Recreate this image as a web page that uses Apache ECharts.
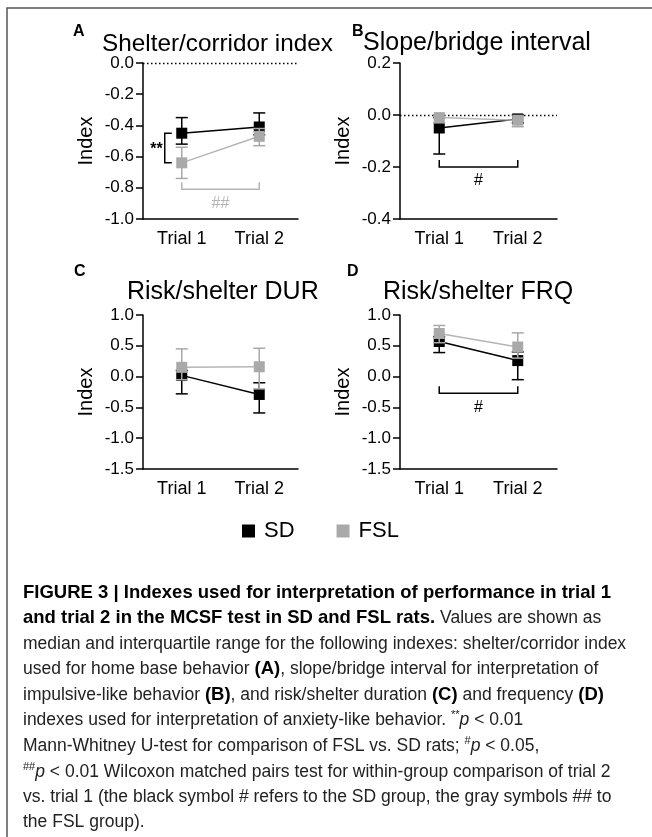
<!DOCTYPE html>
<html><head><meta charset="utf-8">
<script src="https://cdn.jsdelivr.net/npm/echarts@6/dist/echarts.min.js"></script>
<style>html,body{margin:0;padding:0;background:#fff}#c{width:652px;height:837px}</style>
</head><body><div id="c"></div>
<script>
// ---------- data ----------
var trials = ['Trial 1', 'Trial 2'];
var groupNames = ['SD', 'FSL'];
var panelLetters = ['A', 'B', 'C', 'D'];
var panelTitles = ['Shelter/corridor index', 'Slope/bridge interval', 'Risk/shelter DUR', 'Risk/shelter FRQ'];
var yAxisName = 'Index';

// y-axis [min, max, interval]
var yRangeA = [-1.0, 0.0, 0.2];
var yRangeB = [-0.4, 0.2, 0.2];
var yRangeC = [-1.5, 1.0, 0.5];
var yRangeD = [-1.5, 1.0, 0.5];

// medians and interquartile range (low, high), per trial
var A_SD = [-0.45, -0.41], A_SD_lo = [-0.52, -0.46], A_SD_hi = [-0.35, -0.32];
var A_FSL = [-0.64, -0.47], A_FSL_lo = [-0.74, -0.53], A_FSL_hi = [-0.54, -0.42];

var B_SD = [-0.05, -0.015], B_SD_lo = [-0.15, -0.03], B_SD_hi = [-0.01, 0.0];
var B_FSL = [-0.01, -0.02], B_FSL_lo = [-0.03, -0.045], B_FSL_hi = [0.0, -0.005];

var C_SD = [0.02, -0.29], C_SD_lo = [-0.28, -0.59], C_SD_hi = [0.10, -0.10];
var C_FSL = [0.15, 0.16], C_FSL_lo = [-0.05, -0.20], C_FSL_hi = [0.45, 0.46];

var D_SD = [0.57, 0.26], D_SD_lo = [0.39, -0.05], D_SD_hi = [0.65, 0.40];
var D_FSL = [0.70, 0.48], D_FSL_lo = [0.55, 0.30], D_FSL_hi = [0.83, 0.71];

// significance annotations
var A_groupSigLabel = '**', A_groupSigSpan = [-0.45, -0.64];
var A_trialSigLabel = '##', A_trialSigLevel = -0.81;
var B_trialSigLabel = '#', B_trialSigLevel = -0.20;
var D_trialSigLabel = '#', D_trialSigLevel = -0.27;
var zeroLines = [0, 0]; // dotted reference line at y = 0 in panels A and B

// caption
var captionLines = [
  '{b|FIGURE 3 | Indexes used for interpretation of performance in trial 1}',
  '{b|and trial 2 in the MCSF test in SD and FSL rats.} Values are shown as',
  'median and interquartile range for the following indexes: shelter/corridor index',
  'used for home base behavior {b|(A)}, slope/bridge interval for interpretation of',
  'impulsive-like behavior {b|(B)}, and risk/shelter duration {b|(C)} and frequency {b|(D)}',
  'indexes used for interpretation of anxiety-like behavior. {s|**}{i|p} < 0.01',
  'Mann-Whitney U-test for comparison of FSL vs. SD rats; {s|#}{i|p} < 0.05,',
  '{s|##}{i|p} < 0.01 Wilcoxon matched pairs test for within-group comparison of trial 2',
  'vs. trial 1 (the black symbol # refers to the SD group, the gray symbols ## to',
  'the FSL group).'
];

// ---------- style / layout ----------
var FONT = '"Liberation Sans", Arial, Helvetica, sans-serif';
var BLACK = '#000000', GREY = '#a9a9a9', GREY_LINE = '#b5b5b5';
var CAP_SIZE = 17.5, CAP_BOLD = 18.5;
var grids = [
  {left: 143, top: 63, width: 155, height: 156},
  {left: 400, top: 63, width: 157, height: 156},
  {left: 143, top: 315, width: 155, height: 154},
  {left: 400, top: 315, width: 157, height: 154}
];
var titlePos = [[102, 45], [363, 44], [127, 293], [383, 293]];
var titleSize = [24.3, 25, 25, 25];
var letterPos = [[73, 33], [352, 33], [74, 273], [347, 273]];
var captionY = [593, 618, 644, 669, 695, 720, 746, 772, 797, 822];

var chart = echarts.init(document.getElementById('c'), null, {renderer: 'canvas'});

function errData(lo, hi) {
  return lo.map(function (v, i) { return [i, lo[i], hi[i]]; });
}
function errRender(color) {
  return function (params, api) {
    var x = api.value(0);
    var pLo = api.coord([x, api.value(1)]);
    var pHi = api.coord([x, api.value(2)]);
    var w = 6;
    var st = {stroke: color, lineWidth: 1.5};
    return {type: 'group', children: [
      {type: 'line', shape: {x1: pLo[0], y1: pLo[1], x2: pHi[0], y2: pHi[1]}, style: st},
      {type: 'line', shape: {x1: pLo[0] - w, y1: pLo[1], x2: pLo[0] + w, y2: pLo[1]}, style: st},
      {type: 'line', shape: {x1: pHi[0] - w, y1: pHi[1], x2: pHi[0] + w, y2: pHi[1]}, style: st}
    ]};
  };
}
function trialBracket(label, color) {
  return function (params, api) {
    var lvl = api.value(0);
    var p1 = api.coord([0, lvl]), p2 = api.coord([1, lvl]);
    var st = {stroke: color, lineWidth: 1.5, fill: null};
    return {type: 'group', children: [
      {type: 'polyline', shape: {points: [[p1[0], p1[1] - 7], [p1[0], p1[1]], [p2[0], p2[1]], [p2[0], p2[1] - 7]]}, style: st},
      {type: 'text', style: {text: label, x: (p1[0] + p2[0]) / 2, y: p1[1] + 14, align: 'center', verticalAlign: 'middle',
        fill: color, font: '16px ' + FONT}}
    ]};
  };
}
function groupBracket(label) {
  return function (params, api) {
    var pa = api.coord([0, api.value(0)]), pb = api.coord([0, api.value(1)]);
    var xv = pa[0] - 17;
    var st = {stroke: BLACK, lineWidth: 1.5, fill: null};
    return {type: 'group', children: [
      {type: 'polyline', shape: {points: [[xv + 7, pa[1]], [xv, pa[1]], [xv, pb[1]], [xv + 7, pb[1]]]}, style: st},
      {type: 'text', style: {text: label, x: xv - 2, y: (pa[1] + pb[1]) / 2 + 2, align: 'right', verticalAlign: 'middle',
        fill: BLACK, font: 'bold 16px ' + FONT}}
    ]};
  };
}

var panels = [
  {y: yRangeA, sd: A_SD, sdLo: A_SD_lo, sdHi: A_SD_hi, fsl: A_FSL, fslLo: A_FSL_lo, fslHi: A_FSL_hi, zero: zeroLines[0]},
  {y: yRangeB, sd: B_SD, sdLo: B_SD_lo, sdHi: B_SD_hi, fsl: B_FSL, fslLo: B_FSL_lo, fslHi: B_FSL_hi, zero: zeroLines[1]},
  {y: yRangeC, sd: C_SD, sdLo: C_SD_lo, sdHi: C_SD_hi, fsl: C_FSL, fslLo: C_FSL_lo, fslHi: C_FSL_hi},
  {y: yRangeD, sd: D_SD, sdLo: D_SD_lo, sdHi: D_SD_hi, fsl: D_FSL, fslLo: D_FSL_lo, fslHi: D_FSL_hi}
];

var xAxes = [], yAxes = [], series = [];
panels.forEach(function (p, i) {
  xAxes.push({
    type: 'category', gridIndex: i, data: trials, boundaryGap: true,
    axisLine: {onZero: false, lineStyle: {color: BLACK, width: 1.5}},
    axisTick: {alignWithLabel: true, length: 7, lineStyle: {color: BLACK, width: 1.5}},
    axisLabel: {color: BLACK, fontSize: 18, fontFamily: FONT, margin: 11},
    splitLine: {show: false}
  });
  yAxes.push({
    type: 'value', gridIndex: i, min: p.y[0], max: p.y[1], interval: p.y[2],
    name: yAxisName, nameLocation: 'middle', nameRotate: 90, nameGap: 47,
    nameTextStyle: {color: BLACK, fontSize: 20, fontFamily: FONT},
    axisLine: {show: true, onZero: false, lineStyle: {color: BLACK, width: 1.5}},
    axisTick: {show: true, length: 7, lineStyle: {color: BLACK, width: 1.5}},
    axisLabel: {color: BLACK, fontSize: 17, fontFamily: FONT, margin: 9,
      formatter: function (v) { var s = (Math.round(v * 10) / 10).toFixed(1); return s === '-0.0' ? '0.0' : s; }},
    splitLine: {show: false}
  });
  series.push({
    type: 'custom', name: 'SD IQR', xAxisIndex: i, yAxisIndex: i, z: 2, clip: false,
    renderItem: errRender(BLACK), data: errData(p.sdLo, p.sdHi), encode: {x: 0, y: [1, 2]}
  });
  var sdLine = {
    type: 'line', name: groupNames[0], xAxisIndex: i, yAxisIndex: i, z: 3, data: p.sd,
    symbol: 'rect', symbolSize: 11, showAllSymbol: true,
    itemStyle: {color: BLACK}, lineStyle: {color: BLACK, width: 1.5}
  };
  if (p.zero !== undefined) {
    sdLine.markLine = {silent: true, symbol: 'none', label: {show: false}, animation: false,
      lineStyle: {type: [1.5, 2.5], color: BLACK, width: 1.3}, data: [{yAxis: p.zero}]};
  }
  series.push(sdLine);
  series.push({
    type: 'custom', name: 'FSL IQR', xAxisIndex: i, yAxisIndex: i, z: 4, clip: false,
    renderItem: errRender(GREY), data: errData(p.fslLo, p.fslHi), encode: {x: 0, y: [1, 2]}
  });
  series.push({
    type: 'line', name: groupNames[1], xAxisIndex: i, yAxisIndex: i, z: 5, data: p.fsl,
    symbol: 'rect', symbolSize: 11, showAllSymbol: true,
    itemStyle: {color: GREY}, lineStyle: {color: GREY_LINE, width: 1.5}
  });
});

// annotations
series.push({type: 'custom', xAxisIndex: 0, yAxisIndex: 0, z: 6, clip: false,
  renderItem: groupBracket(A_groupSigLabel), data: [A_groupSigSpan]});
series.push({type: 'custom', xAxisIndex: 0, yAxisIndex: 0, z: 6, clip: false,
  renderItem: trialBracket(A_trialSigLabel, GREY_LINE), data: [[A_trialSigLevel]]});
series.push({type: 'custom', xAxisIndex: 1, yAxisIndex: 1, z: 6, clip: false,
  renderItem: trialBracket(B_trialSigLabel, BLACK), data: [[B_trialSigLevel]]});
series.push({type: 'custom', xAxisIndex: 3, yAxisIndex: 3, z: 6, clip: false,
  renderItem: trialBracket(D_trialSigLabel, BLACK), data: [[D_trialSigLevel]]});

var graphics = [
  {type: 'polyline', silent: true, shape: {points: [[7, 837], [7, 8], [652, 8]]},
    style: {stroke: '#555', lineWidth: 1.5, fill: null}}
];
panelTitles.forEach(function (t, i) {
  graphics.push({type: 'text', left: titlePos[i][0], top: titlePos[i][1] - 13, silent: true,
    style: {text: t, font: titleSize[i] + 'px ' + FONT, fill: BLACK}});
  graphics.push({type: 'text', left: letterPos[i][0], top: letterPos[i][1] - 9, silent: true,
    style: {text: panelLetters[i], font: 'bold 16px ' + FONT, fill: BLACK}});
});
captionLines.forEach(function (line, i) {
  graphics.push({type: 'text', left: 23, top: captionY[i] - 11, silent: true,
    style: {text: line, font: CAP_SIZE + 'px ' + FONT, fill: '#222', lineHeight: 22,
      rich: {
        b: {fontWeight: 'bold', fontSize: CAP_BOLD, fontFamily: FONT, fill: '#000', lineHeight: 22},
        i: {fontStyle: 'italic', fontSize: CAP_SIZE, fontFamily: FONT, lineHeight: 22},
        s: {fontSize: 11, fontFamily: FONT, verticalAlign: 'top', lineHeight: 22}
      }}});
});

chart.setOption({
  animation: false,
  backgroundColor: '#ffffff',
  textStyle: {fontFamily: FONT},
  grid: grids,
  xAxis: xAxes,
  yAxis: yAxes,
  legend: {
    data: groupNames, left: 237, top: 515, icon: 'rect', itemWidth: 13, itemHeight: 13, itemGap: 42,
    textStyle: {fontSize: 22, color: BLACK, fontFamily: FONT, padding: [0, 0, 0, 4]}, selectedMode: false
  },
  graphic: graphics,
  series: series
});
</script>
</body></html>
